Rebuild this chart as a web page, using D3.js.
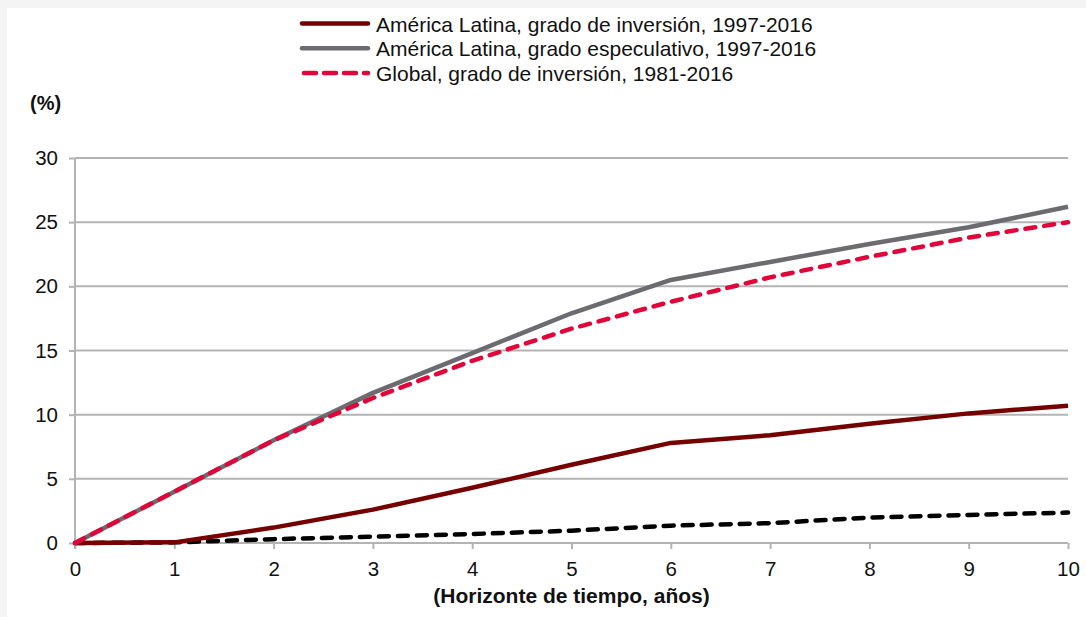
<!DOCTYPE html>
<html>
<head>
<meta charset="utf-8">
<script src="https://cdn.jsdelivr.net/npm/d3@7"></script>
<style>
  body { margin: 0; background: #fff; }
  svg { display: block; font-family: "Liberation Sans", Arial, sans-serif; }
</style>
</head>
<body>
<svg id="svg" width="1086" height="617"></svg>
<script>
// horizon in years
var years = [0, 1, 2, 3, 4, 5, 6, 7, 8, 9, 10];

// cumulative default rates (%)
var alInversion    = [0, 0.05, 1.2, 2.6, 4.3, 6.1, 7.8, 8.4, 9.3, 10.1, 10.7];
var alEspeculativo = [0, 4.0, 8.0, 11.7, 14.8, 17.9, 20.5, 21.9, 23.3, 24.6, 26.2];
var globalInversion = [0, 4.0, 8.0, 11.3, 14.2, 16.7, 18.8, 20.7, 22.3, 23.8, 25.0];
var otraSerie      = [0, 0.05, 0.3, 0.5, 0.7, 0.96, 1.35, 1.55, 1.98, 2.19, 2.37];

var yTicks = [0, 5, 10, 15, 20, 25, 30];

var series = [
  { name: "América Latina, grado de inversión, 1997-2016", values: alInversion, color: "#760000", dash: null, legend: true },
  { name: "América Latina, grado especulativo, 1997-2016", values: alEspeculativo, color: "#6b6b70", dash: null, legend: true },
  { name: "Global, grado de inversión, 1981-2016", values: globalInversion, color: "#e0063a", dash: "10,9", legend: true },
  { name: "otra", values: otraSerie, color: "#000", dash: "10,9", legend: false }
];

var svg = d3.select("#svg");
var gridColor = "#b3b3b3";

// light frame at top / left
svg.append("rect").attr("width", 1086).attr("height", 617).attr("fill", "#f4f4f4");
svg.append("rect").attr("x", 7).attr("y", 8).attr("width", 1079).attr("height", 609).attr("fill", "#fff");

var x = d3.scaleLinear().domain([0, 10]).range([75, 1068]);
var y = d3.scaleLinear().domain([0, 30]).range([543, 158]);

// gridlines
svg.append("g").selectAll("line")
  .data(yTicks.filter(function(d){ return d > 0; }))
  .enter().append("line")
  .attr("x1", x(0)).attr("x2", x(10))
  .attr("y1", function(d){ return y(d); }).attr("y2", function(d){ return y(d); })
  .attr("stroke", gridColor).attr("stroke-width", 2);

// y axis
var yAxis = svg.append("g")
  .attr("transform", "translate(" + x(0) + ",0)")
  .call(d3.axisLeft(y).tickValues(yTicks).tickSize(6).tickPadding(11));

// x axis
var xAxis = svg.append("g")
  .attr("transform", "translate(0," + y(0) + ")")
  .call(d3.axisBottom(x).tickValues(years).tickSize(6).tickPadding(12));

[yAxis, xAxis].forEach(function(a){
  a.select(".domain").attr("stroke", gridColor).attr("stroke-width", 2);
  a.selectAll(".tick line").attr("stroke", gridColor).attr("stroke-width", 2);
  a.selectAll(".tick text").attr("fill", "#111").style("font-size", "20.5px")
    .style("font-family", "'Liberation Sans', Arial, sans-serif");
});
yAxis.select(".domain").attr("d", "M0," + y(30) + "V" + (y(0) + 6));
xAxis.select(".domain").attr("d", "M" + x(0) + ",0H" + x(10));

// lines
var line = d3.line()
  .x(function(d, i){ return x(years[i]); })
  .y(function(d){ return y(d); });

// draw order: black dashed, dark red, gray, red dashed
[3, 0, 1, 2].forEach(function(k){
  var s = series[k];
  svg.append("path")
    .datum(s.values)
    .attr("d", line)
    .attr("fill", "none")
    .attr("stroke", s.color)
    .attr("stroke-width", 4.5)
    .attr("stroke-linecap", s.dash ? "round" : "butt")
    .attr("stroke-linejoin", "round")
    .attr("stroke-dasharray", s.dash);
});

// legend
var legend = svg.append("g").selectAll("g")
  .data(series.filter(function(d){ return d.legend; }))
  .enter().append("g")
  .attr("transform", function(d, i){ return "translate(0," + (23.5 + i * 24.7) + ")"; });

legend.append("line")
  .attr("x1", function(d){ return d.dash ? 304 : 302; }).attr("x2", 368)
  .attr("stroke", function(d){ return d.color; })
  .attr("stroke-width", 4.5)
  .attr("stroke-linecap", "round")
  .attr("stroke-dasharray", function(d){ return d.dash ? "12,8" : null; });

legend.append("text")
  .attr("x", 376).attr("y", 8)
  .attr("fill", "#111")
  .style("font-size", "21px")
  .text(function(d){ return d.name; });

// titles
svg.append("text")
  .attr("x", 30).attr("y", 110)
  .attr("fill", "#111")
  .style("font-size", "20px").style("font-weight", "bold")
  .text("(%)");

svg.append("text")
  .attr("x", (x(0) + x(10)) / 2).attr("y", 603)
  .attr("text-anchor", "middle")
  .attr("fill", "#111")
  .style("font-size", "21px").style("font-weight", "bold")
  .text("(Horizonte de tiempo, años)");
</script>
</body>
</html>
